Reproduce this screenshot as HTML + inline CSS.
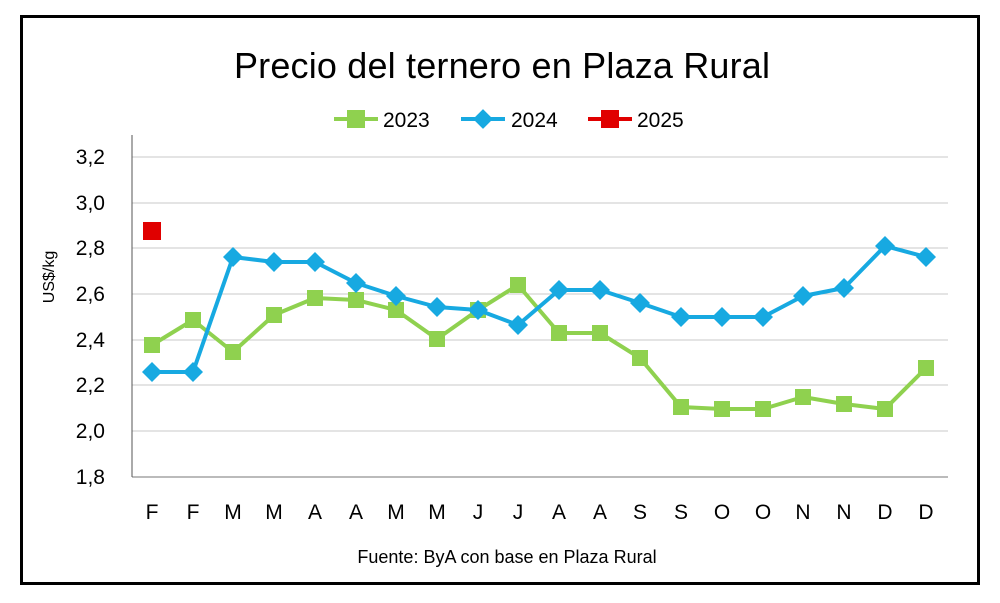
<!DOCTYPE html>
<html><head><meta charset="utf-8"><style>
body{margin:0;background:#fff;}
svg{display:block;font-family:"Liberation Sans",sans-serif;}
</style></head><body>
<svg width="1000" height="603" viewBox="0 0 1000 603">
<rect x="0" y="0" width="1000" height="603" fill="#fff"/>
<rect x="21.5" y="16.5" width="957" height="567" fill="none" stroke="#000" stroke-width="3"/>
<text x="502" y="78" font-size="36" text-anchor="middle" fill="#000" textLength="536">Precio del ternero en Plaza Rural</text>
<g>
<line x1="334" y1="119" x2="378" y2="119" stroke="#8fd14f" stroke-width="4"/>
<rect x="347" y="110" width="18" height="18" fill="#8fd14f"/>
<text x="383" y="127" font-size="21">2023</text>
<line x1="461" y1="119" x2="505" y2="119" stroke="#17a9e1" stroke-width="4"/>
<rect x="476" y="112" width="14" height="14" fill="#17a9e1" transform="rotate(45 483 119)"/>
<text x="511" y="127" font-size="21">2024</text>
<line x1="588" y1="119" x2="632" y2="119" stroke="#e00000" stroke-width="4"/>
<rect x="601" y="110" width="18" height="18" fill="#e00000"/>
<text x="637" y="127" font-size="21">2025</text>
</g>
<g stroke="#c8c8c8" stroke-width="1">
<line x1="132" y1="157" x2="948" y2="157"/>
<line x1="132" y1="203" x2="948" y2="203"/>
<line x1="132" y1="248" x2="948" y2="248"/>
<line x1="132" y1="294" x2="948" y2="294"/>
<line x1="132" y1="340" x2="948" y2="340"/>
<line x1="132" y1="385" x2="948" y2="385"/>
<line x1="132" y1="431" x2="948" y2="431"/>
</g>
<line x1="132" y1="477" x2="948" y2="477" stroke="#777" stroke-width="1"/>
<line x1="132" y1="135" x2="132" y2="477" stroke="#555" stroke-width="1"/>
<g font-size="21" text-anchor="end">
<text x="105" y="164">3,2</text>
<text x="105" y="210">3,0</text>
<text x="105" y="255">2,8</text>
<text x="105" y="301">2,6</text>
<text x="105" y="347">2,4</text>
<text x="105" y="392">2,2</text>
<text x="105" y="438">2,0</text>
<text x="105" y="484">1,8</text>
</g>
<text transform="translate(54 277) rotate(-90)" font-size="16" text-anchor="middle">US$/kg</text>
<g font-size="21" text-anchor="middle">
<text x="152" y="519">F</text><text x="193" y="519">F</text><text x="233" y="519">M</text><text x="274" y="519">M</text><text x="315" y="519">A</text><text x="356" y="519">A</text><text x="396" y="519">M</text><text x="437" y="519">M</text><text x="478" y="519">J</text><text x="518" y="519">J</text><text x="559" y="519">A</text><text x="600" y="519">A</text><text x="640" y="519">S</text><text x="681" y="519">S</text><text x="722" y="519">O</text><text x="763" y="519">O</text><text x="803" y="519">N</text><text x="844" y="519">N</text><text x="885" y="519">D</text><text x="926" y="519">D</text>
</g>
<text x="507" y="563" font-size="18" text-anchor="middle">Fuente: ByA con base en Plaza Rural</text>
<polyline fill="none" stroke="#8fd14f" stroke-width="4" stroke-linejoin="round" points="152,345 193,320 233,352 274,315 315,298 356,300 396,310 437,339 478,310 518,285 559,333 600,333 640,358 681,407 722,409 763,409 803,397 844,404 885,409 926,368"/>
<g fill="#8fd14f">
<rect x="144" y="337" width="16" height="16"/><rect x="185" y="312" width="16" height="16"/><rect x="225" y="344" width="16" height="16"/><rect x="266" y="307" width="16" height="16"/><rect x="307" y="290" width="16" height="16"/><rect x="348" y="292" width="16" height="16"/><rect x="388" y="302" width="16" height="16"/><rect x="429" y="331" width="16" height="16"/><rect x="470" y="302" width="16" height="16"/><rect x="510" y="277" width="16" height="16"/><rect x="551" y="325" width="16" height="16"/><rect x="592" y="325" width="16" height="16"/><rect x="632" y="350" width="16" height="16"/><rect x="673" y="399" width="16" height="16"/><rect x="714" y="401" width="16" height="16"/><rect x="755" y="401" width="16" height="16"/><rect x="795" y="389" width="16" height="16"/><rect x="836" y="396" width="16" height="16"/><rect x="877" y="401" width="16" height="16"/><rect x="918" y="360" width="16" height="16"/>
</g>
<polyline fill="none" stroke="#17a9e1" stroke-width="4" stroke-linejoin="round" points="152,372 193,372 233,257 274,262 315,262 356,283 396,296 437,307 478,310 518,325 559,290 600,290 640,303 681,317 722,317 763,317 803,296 844,288 885,246 926,257"/>
<g fill="#17a9e1">
<path d="M152 362l10 10-10 10-10-10z"/><path d="M193 362l10 10-10 10-10-10z"/><path d="M233 247l10 10-10 10-10-10z"/><path d="M274 252l10 10-10 10-10-10z"/><path d="M315 252l10 10-10 10-10-10z"/><path d="M356 273l10 10-10 10-10-10z"/><path d="M396 286l10 10-10 10-10-10z"/><path d="M437 297l10 10-10 10-10-10z"/><path d="M478 300l10 10-10 10-10-10z"/><path d="M518 315l10 10-10 10-10-10z"/><path d="M559 280l10 10-10 10-10-10z"/><path d="M600 280l10 10-10 10-10-10z"/><path d="M640 293l10 10-10 10-10-10z"/><path d="M681 307l10 10-10 10-10-10z"/><path d="M722 307l10 10-10 10-10-10z"/><path d="M763 307l10 10-10 10-10-10z"/><path d="M803 286l10 10-10 10-10-10z"/><path d="M844 278l10 10-10 10-10-10z"/><path d="M885 236l10 10-10 10-10-10z"/><path d="M926 247l10 10-10 10-10-10z"/>
</g>
<rect x="143" y="222" width="18" height="18" fill="#e00000"/>
</svg>
</body></html>
